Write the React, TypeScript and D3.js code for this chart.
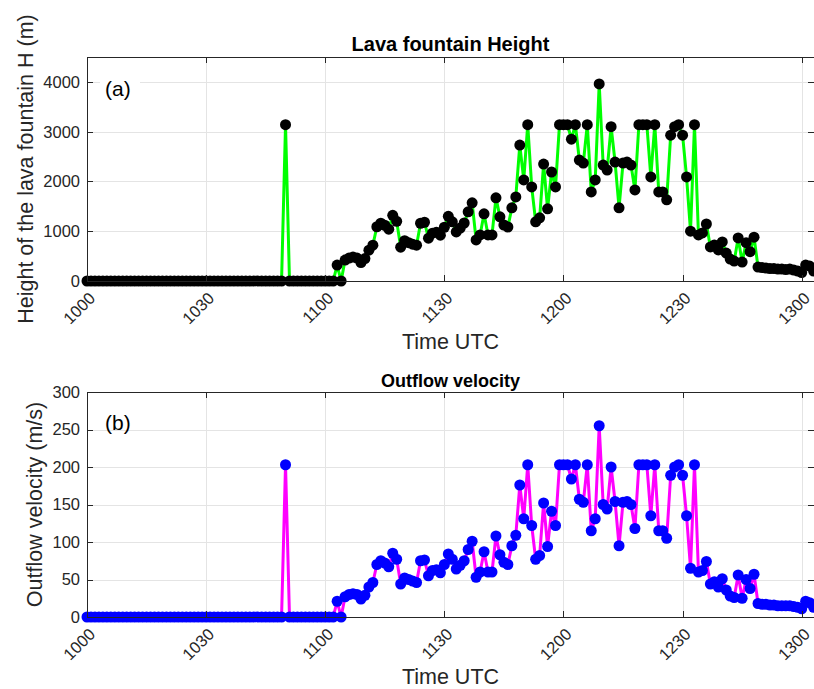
import React, { useEffect, useRef } from "react";
import * as d3 from "d3";

// one sample per minute, starting at 10:00 UTC
const xTickMinutes = [0, 30, 60, 90, 120, 150, 180];
const xTickLabels = ["1000", "1030", "1100", "1130", "1200", "1230", "1300"];
const heightTicks = [0, 1000, 2000, 3000, 4000];
const velocityTicks = [0, 50, 100, 150, 200, 250, 300];

const fountainHeight = [
  0, 0, 0, 0, 0, 0, 0, 0, 0, 0, 0, 0, 0, 0, 0, 0, 0, 0, 0, 0,
  0, 0, 0, 0, 0, 0, 0, 0, 0, 0, 0, 0, 0, 0, 0, 0, 0, 0, 0, 0,
  0, 0, 0, 0, 0, 0, 0, 0, 0, 0, 3140, 0, 0, 0, 0, 0, 0, 0, 0, 0,
  0, 0, 0, 320, 0,
  420, 460, 480, 460, 370, 450, 620, 720, 1090, 1160, 1120, 1040, 1320, 1200, 680, 810, 770, 740, 720, 1160,
  1180, 860, 960, 980, 920, 1080, 1300, 1190, 985, 1065, 1165, 1390, 1570, 825, 925, 1350, 925, 925, 1670, 1290,
  1125, 1085, 1470, 1690, 2730, 2030, 3140, 1890, 1190, 1270, 2350, 1450, 2190, 1890, 3140, 3140, 3140, 2850, 3140, 2430,
  2370, 3140, 1790, 2030, 3960, 2330, 2230, 3100, 2390, 1470, 2370, 2390, 2330, 1830, 3140, 3140, 3140, 2090, 3140, 1790,
  1790, 1630, 2930, 3100, 3140, 2930, 2090, 1000, 3140, 925, 965, 1145, 685, 725, 625, 785, 560, 440, 400, 865,
  380, 770, 590, 880, 280, 270, 260, 250, 250, 240, 240, 230, 240, 220, 200, 170, 320, 300, 200,
];

const outflowVelocity = [
  0, 0, 0, 0, 0, 0, 0, 0, 0, 0, 0, 0, 0, 0, 0, 0, 0, 0, 0, 0,
  0, 0, 0, 0, 0, 0, 0, 0, 0, 0, 0, 0, 0, 0, 0, 0, 0, 0, 0, 0,
  0, 0, 0, 0, 0, 0, 0, 0, 0, 0, 203, 0, 0, 0, 0, 0, 0, 0, 0, 0,
  0, 0, 0, 21, 0,
  27, 30, 31, 30, 24, 29, 40, 46, 70, 75, 72, 67, 85, 77, 44, 52, 50, 48, 46, 75,
  76, 55, 62, 63, 59, 70, 84, 77, 64, 69, 75, 90, 101, 53, 60, 87, 60, 60, 108, 83,
  73, 70, 95, 109, 176, 131, 203, 122, 77, 82, 152, 94, 141, 122, 203, 203, 203, 184, 203, 157,
  153, 203, 115, 131, 255, 150, 144, 200, 154, 95, 153, 154, 150, 118, 203, 203, 203, 135, 203, 115,
  115, 105, 189, 200, 203, 189, 135, 65, 203, 60, 62, 74, 44, 47, 40, 51, 36, 28, 26, 56,
  25, 50, 38, 57, 18, 17, 17, 16, 16, 15, 15, 15, 15, 14, 13, 11, 21, 19, 13,
];

const FONT = "'Liberation Sans', Arial, Helvetica, sans-serif";
const AXIS = "#262626";

function drawPanel(svg, p) {
  const x = d3.scaleLinear().domain([0, 183.1]).range([p.left, p.right]);
  const y = d3.scaleLinear().domain([0, p.yMax]).range([p.bottom, p.top]);
  const g = svg.append("g");

  // grid
  g.selectAll(".gx").data(xTickMinutes).enter().append("line")
    .attr("x1", d => Math.round(x(d)) + 0.5).attr("x2", d => Math.round(x(d)) + 0.5)
    .attr("y1", p.top).attr("y2", p.bottom).attr("stroke", "#e4e4e4");
  g.selectAll(".gy").data(p.ticks).enter().append("line")
    .attr("x1", p.left).attr("x2", p.right)
    .attr("y1", d => Math.round(y(d)) + 0.5).attr("y2", d => Math.round(y(d)) + 0.5)
    .attr("stroke", "#e4e4e4");

  // panel letter with white box
  g.append("rect").attr("x", p.left + 13).attr("y", y(p.ticks[p.ticks.length - 1]) - 10)
    .attr("width", 40).attr("height", 26).attr("fill", "#fff");
  g.append("text").attr("x", p.left + 18).attr("y", p.letterY)
    .style("font-family", FONT).style("font-size", "21px").attr("fill", "#000").text(p.letter);

  // series
  const line = d3.line().x((d, i) => x(i)).y(d => y(d));
  g.append("path").datum(p.values).attr("d", line).attr("fill", "none")
    .attr("stroke", p.lineColor).attr("stroke-width", 3).attr("stroke-linejoin", "round");
  g.selectAll(".pt").data(p.values).enter().append("circle")
    .attr("cx", (d, i) => x(i)).attr("cy", d => y(d)).attr("r", 5.5).attr("fill", p.markerColor);

  // box and ticks
  g.append("rect").attr("x", p.left + 0.5).attr("y", p.top + 0.5)
    .attr("width", p.right - p.left).attr("height", p.bottom - p.top)
    .attr("fill", "none").attr("stroke", AXIS).attr("stroke-width", 1);
  xTickMinutes.forEach(m => {
    const tx = Math.round(x(m)) + 0.5;
    g.append("line").attr("x1", tx).attr("x2", tx).attr("y1", p.bottom).attr("y2", p.bottom - 6).attr("stroke", AXIS);
    g.append("line").attr("x1", tx).attr("x2", tx).attr("y1", p.top).attr("y2", p.top + 6).attr("stroke", AXIS);
  });
  p.ticks.forEach(t => {
    const ty = Math.round(y(t)) + 0.5;
    g.append("line").attr("x1", p.left).attr("x2", p.left + 6).attr("y1", ty).attr("y2", ty).attr("stroke", AXIS);
    g.append("line").attr("x1", p.right - 6).attr("x2", p.right).attr("y1", ty).attr("y2", ty).attr("stroke", AXIS);
  });

  // tick labels
  g.selectAll(".yl").data(p.ticks).enter().append("text")
    .attr("x", p.left - 7).attr("y", d => y(d)).attr("dy", "0.36em")
    .attr("text-anchor", "end").style("font-family", FONT).style("font-size", "16.5px")
    .attr("fill", AXIS).text(d => d);
  g.selectAll(".xl").data(xTickMinutes).enter().append("text")
    .attr("transform", (d) => `translate(${x(d) + 5},${p.bottom + 14}) rotate(-45)`)
    .attr("dy", "0.36em").attr("text-anchor", "end")
    .style("font-family", FONT).style("font-size", "16.5px").attr("fill", AXIS)
    .text((d, i) => xTickLabels[i]);

  // titles and labels
  const cx = (p.left + p.right) / 2;
  g.append("text").attr("x", cx).attr("y", p.titleY).attr("text-anchor", "middle")
    .style("font-family", FONT).style("font-size", p.titleSize).style("font-weight", "bold")
    .attr("fill", "#000").text(p.title);
  g.append("text").attr("x", cx).attr("y", p.xLabelY).attr("text-anchor", "middle")
    .style("font-family", FONT).style("font-size", "21.5px").attr("fill", AXIS).text("Time UTC");
  g.append("text")
    .attr("transform", `translate(${p.yLabelX},${(p.top + p.bottom) / 2}) rotate(-90)`)
    .attr("text-anchor", "middle").style("font-family", FONT).style("font-size", "21.5px")
    .attr("fill", AXIS).text(p.yLabel);
}

export default function App() {
  const ref = useRef(null);
  useEffect(() => {
    const svg = d3.select(ref.current);
    svg.selectAll("*").remove();
    svg.append("rect").attr("width", 814).attr("height", 689).attr("fill", "#fff");
    drawPanel(svg, {
      left: 87, right: 814, top: 57, bottom: 281, yMax: 4500, ticks: heightTicks,
      values: fountainHeight, lineColor: "#00ff00", markerColor: "#000000",
      title: "Lava fountain Height", titleSize: "20px", titleY: 51, xLabelY: 349,
      yLabel: "Height of the lava fountain H (m)", yLabelX: 33, letter: "(a)", letterY: 96,
    });
    drawPanel(svg, {
      left: 87, right: 814, top: 392, bottom: 617, yMax: 300, ticks: velocityTicks,
      values: outflowVelocity, lineColor: "#ff00ff", markerColor: "#0000ff",
      title: "Outflow velocity", titleSize: "18px", titleY: 387, xLabelY: 684,
      yLabel: "Outflow velocity (m/s)", yLabelX: 42, letter: "(b)", letterY: 430,
    });
  }, []);
  return (
    <svg ref={ref} width={814} height={689}
      style={{ position: "absolute", left: 0, top: 0, display: "block" }} />
  );
}
